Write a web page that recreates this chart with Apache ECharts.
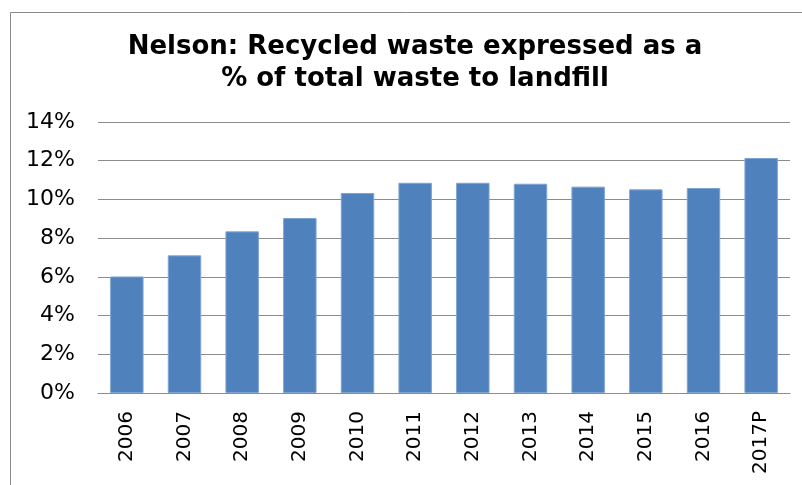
<!DOCTYPE html>
<html>
<head>
<meta charset="utf-8">
<style>html,body{margin:0;padding:0;background:#fff;}#chart{width:802px;height:485px;}</style>
<script src="https://cdn.jsdelivr.net/npm/echarts@6/dist/echarts.min.js"></script>
</head>
<body>
<div id="chart"></div>
<script>
const categories = ['2006','2007','2008','2009','2010','2011','2012','2013','2014','2015','2016','2017P'];
const recycledPct = [6.02, 7.11, 8.35, 9.04, 10.33, 10.86, 10.86, 10.81, 10.66, 10.52, 10.59, 12.14];
const yTicks = [0, 2, 4, 6, 8, 10, 12, 14];

const chart = echarts.init(document.getElementById('chart'), null, {renderer: 'canvas'});
chart.setOption({
  animation: false,
  backgroundColor: '#fff',
  title: {
    text: 'Nelson: Recycled waste expressed as a\n% of total waste to landfill',
    left: 410,
    top: 26,
    textAlign: 'center',
    textStyle: {fontFamily: 'DejaVu Sans', fontWeight: 'bold', fontSize: 26, lineHeight: 32, color: '#000'}
  },
  graphic: [{
    type: 'rect',
    shape: {x: 10.5, y: 12.5, width: 820, height: 500},
    style: {fill: 'none', stroke: '#8a8a8a', lineWidth: 1},
    silent: true
  }],
  grid: {left: 98, right: 12, top: 122, bottom: 92, containLabel: false},
  xAxis: {
    type: 'category',
    data: categories,
    axisLine: {show: true, lineStyle: {color: '#8c8c8c', width: 1}},
    axisTick: {show: false},
    axisLabel: {rotate: 90, margin: 18, fontFamily: 'DejaVu Sans', fontSize: 20, color: '#000'}
  },
  yAxis: {
    type: 'value',
    min: yTicks[0],
    max: yTicks[yTicks.length - 1],
    interval: 2,
    axisLine: {show: false},
    axisTick: {show: false},
    splitLine: {lineStyle: {color: '#8c8c8c', width: 1}},
    axisLabel: {margin: 23, fontFamily: 'DejaVu Sans', fontSize: 22, color: '#000', formatter: v => v + '%'}
  },
  series: [{
    type: 'bar',
    data: recycledPct,
    barCategoryGap: '42%',
    itemStyle: {color: '#4F81BD', borderColor: '#7DA3D3', borderWidth: 1}
  }]
});
</script>
</body>
</html>
